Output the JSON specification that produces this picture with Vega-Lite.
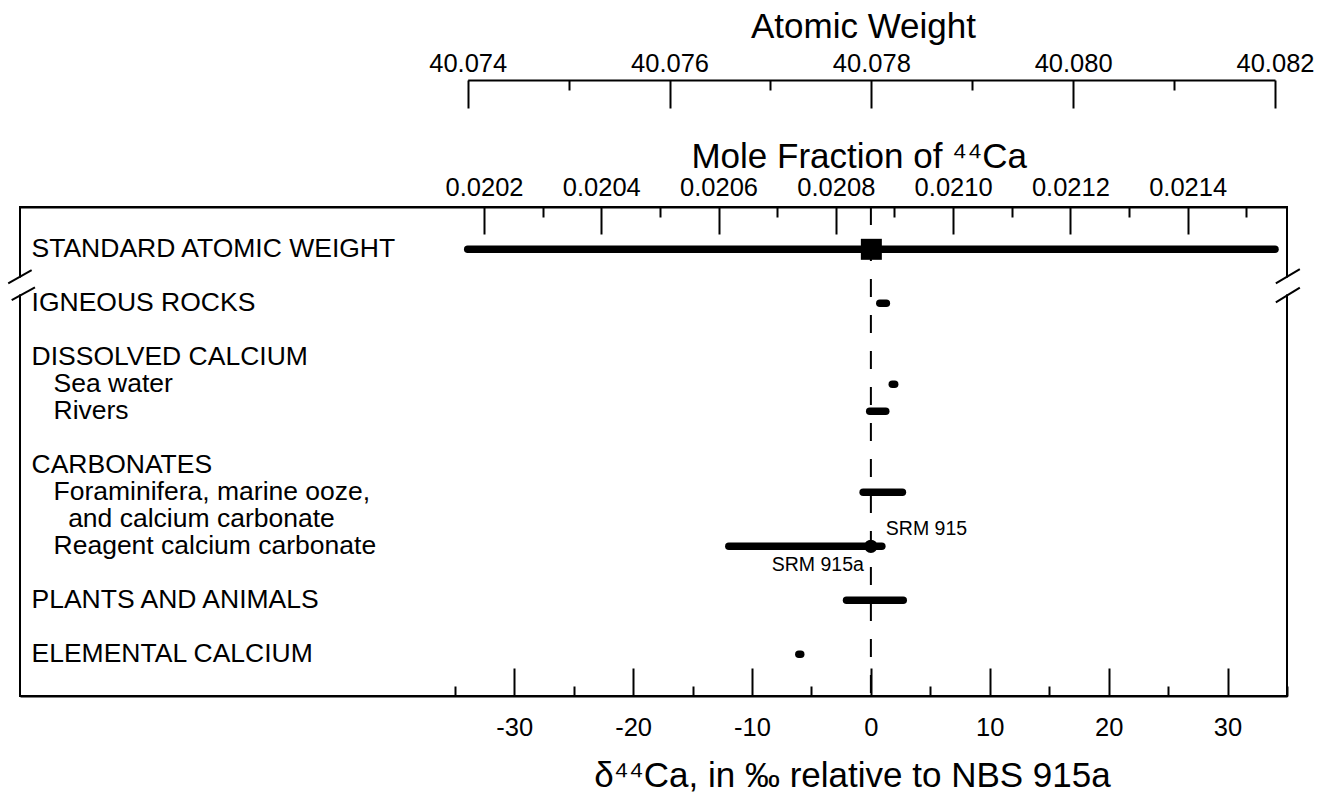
{
  "$schema": "https://vega.github.io/schema/vega-lite/v6.json",
  "width": 1267,
  "height": 489,
  "autosize": {"type": "none"},
  "padding": {"left": 20, "top": 207, "right": 32, "bottom": 97},
  "background": "white",
  "config": {
    "view": {"stroke": "black", "strokeWidth": 2},
    "axis": {
      "domainColor": "black", "domainWidth": 2, "tickColor": "black", "tickWidth": 2,
      "labelColor": "black", "titleColor": "black", "grid": false,
      "labelFont": "Liberation Sans", "titleFont": "Liberation Sans",
      "labelFontSize": 25.5, "titleFontSize": 35, "titleFontWeight": "normal",
      "labelFlush": false, "labelOverlap": false
    },
    "text": {"font": "Liberation Sans", "color": "black"}
  },
  "datasets": {
    "rows": [
      {"label": "STANDARD ATOMIC WEIGHT", "level": 1, "line": 0},
      {"label": "IGNEOUS ROCKS", "level": 1, "line": 2, "lo": 0.75, "hi": 1.3},
      {"label": "DISSOLVED CALCIUM", "level": 1, "line": 4},
      {"label": "Sea water", "level": 2, "line": 5, "lo": 1.8, "hi": 2.0},
      {"label": "Rivers", "level": 2, "line": 6, "lo": -0.1, "hi": 1.25},
      {"label": "CARBONATES", "level": 1, "line": 8},
      {"label": "Foraminifera, marine ooze,", "level": 2, "line": 9, "lo": -0.65, "hi": 2.65},
      {"label": "and calcium carbonate", "level": 3, "line": 10},
      {"label": "Reagent calcium carbonate", "level": 2, "line": 11, "lo": -11.95, "hi": 0.92},
      {"label": "PLANTS AND ANIMALS", "level": 1, "line": 13, "lo": -2.05, "hi": 2.72},
      {"label": "ELEMENTAL CALCIUM", "level": 1, "line": 15, "lo": -6.06, "hi": -5.9}
    ],
    "standard": [
      {"label": "STANDARD ATOMIC WEIGHT", "line": 0, "aw": 40.078, "aw_lo": 40.074, "aw_hi": 40.082}
    ],
    "srm": [
      {"name": "SRM 915a", "delta": 0, "line": 11},
      {"name": "SRM 915", "delta": 0.92, "line": 11}
    ]
  },
  "layer": [
    {
      "data": {"values": [{}]},
      "mark": {"type": "rule", "color": "white", "strokeWidth": 5},
      "encoding": {
        "x": {"datum": -71.57, "type": "quantitative", "scale": {"domain": [-71.57, 35], "nice": false, "zero": false}, "axis": null},
        "y": {"datum": 1.05, "type": "quantitative", "scale": {"domain": [16.544, -1.567], "nice": false, "zero": false}, "axis": null},
        "y2": {"datum": 1.67}
      }
    },
    {
      "data": {"values": [{}]},
      "mark": {"type": "rule", "color": "white", "strokeWidth": 5},
      "encoding": {
        "x": {"datum": 35, "type": "quantitative", "scale": {"domain": [-71.57, 35], "nice": false, "zero": false}, "axis": null},
        "y": {"datum": 1.05, "type": "quantitative", "scale": {"domain": [16.544, -1.567], "nice": false, "zero": false}, "axis": null},
        "y2": {"datum": 1.67}
      }
    },
    {
      "data": {"values": [{}]},
      "mark": {"type": "rule", "color": "black", "strokeWidth": 2, "strokeDash": [18, 18]},
      "encoding": {
        "x": {
          "datum": 0, "type": "quantitative",
          "scale": {"domain": [-71.57, 35], "nice": false, "zero": false},
          "axis": {
            "orient": "bottom", "values": [-35, -25, -15, -5, 5, 15, 25, 35],
            "tickSize": -10, "labels": false, "domain": false, "title": null
          }
        },
        "y": {"datum": -1.567, "type": "quantitative", "scale": {"domain": [16.544, -1.567], "nice": false, "zero": false}, "axis": null},
        "y2": {"datum": 16.544}
      }
    },
    {
      "data": {"name": "rows"},
      "transform": [{"filter": "isValid(datum.lo)"}],
      "mark": {"type": "rule", "strokeWidth": 7.5, "strokeCap": "round", "color": "black"},
      "encoding": {
        "x": {
          "field": "lo", "type": "quantitative",
          "scale": {"domain": [-71.57, 35], "nice": false, "zero": false},
          "axis": {
            "orient": "bottom", "values": [-30, -20, -10, 0, 10, 20, 30],
            "labelExpr": "datum.value < 0 ? '-' + abs(datum.value) : '' + datum.value",
            "tickSize": -28, "labelPadding": 67, "labelBaseline": "alphabetic",
            "title": "δ⁴⁴Ca, in ‰ relative to NBS 915a",
            "titleX": 832, "titleY": 90.7, "titleBaseline": "alphabetic", "titleAlign": "center"
          }
        },
        "x2": {"field": "hi"},
        "y": {"field": "line", "type": "quantitative", "scale": {"domain": [16.544, -1.567], "nice": false, "zero": false}, "axis": null}
      }
    },
    {
      "data": {"name": "rows"},
      "transform": [{"filter": "datum.level == 1"}],
      "mark": {"type": "text", "align": "left", "baseline": "middle", "fontSize": 26.5},
      "encoding": {
        "x": {"datum": -70.6, "type": "quantitative", "scale": {"domain": [-71.57, 35], "nice": false, "zero": false}, "axis": null},
        "y": {"field": "line", "type": "quantitative", "scale": {"domain": [16.544, -1.567], "nice": false, "zero": false}, "axis": null},
        "text": {"field": "label"}
      }
    },
    {
      "data": {"name": "rows"},
      "transform": [{"filter": "datum.level == 2"}],
      "mark": {"type": "text", "align": "left", "baseline": "middle", "fontSize": 26.5, "dx": 22},
      "encoding": {
        "x": {"datum": -70.6, "type": "quantitative", "scale": {"domain": [-71.57, 35], "nice": false, "zero": false}, "axis": null},
        "y": {"field": "line", "type": "quantitative", "scale": {"domain": [16.544, -1.567], "nice": false, "zero": false}, "axis": null},
        "text": {"field": "label"}
      }
    },
    {
      "data": {"name": "rows"},
      "transform": [{"filter": "datum.level == 3"}],
      "mark": {"type": "text", "align": "left", "baseline": "middle", "fontSize": 26.5, "dx": 36.6},
      "encoding": {
        "x": {"datum": -70.6, "type": "quantitative", "scale": {"domain": [-71.57, 35], "nice": false, "zero": false}, "axis": null},
        "y": {"field": "line", "type": "quantitative", "scale": {"domain": [16.544, -1.567], "nice": false, "zero": false}, "axis": null},
        "text": {"field": "label"}
      }
    },
    {
      "data": {"name": "srm"},
      "transform": [{"filter": "datum.name == 'SRM 915a'"}],
      "mark": {"type": "circle", "size": 177, "color": "black", "opacity": 1},
      "encoding": {
        "x": {"field": "delta", "type": "quantitative", "scale": {"domain": [-71.57, 35], "nice": false, "zero": false}, "axis": null},
        "y": {"field": "line", "type": "quantitative", "scale": {"domain": [16.544, -1.567], "nice": false, "zero": false}, "axis": null}
      }
    },
    {
      "data": {"name": "srm"},
      "transform": [{"filter": "datum.name == 'SRM 915'"}],
      "mark": {"type": "text", "align": "left", "baseline": "middle", "fontSize": 19.5, "dx": 4, "dy": -17.7},
      "encoding": {
        "x": {"field": "delta", "type": "quantitative", "scale": {"domain": [-71.57, 35], "nice": false, "zero": false}, "axis": null},
        "y": {"field": "line", "type": "quantitative", "scale": {"domain": [16.544, -1.567], "nice": false, "zero": false}, "axis": null},
        "text": {"field": "name"}
      }
    },
    {
      "data": {"name": "srm"},
      "transform": [{"filter": "datum.name == 'SRM 915a'"}],
      "mark": {"type": "text", "align": "right", "baseline": "middle", "fontSize": 19.5, "dx": -7, "dy": 18.3},
      "encoding": {
        "x": {"field": "delta", "type": "quantitative", "scale": {"domain": [-71.57, 35], "nice": false, "zero": false}, "axis": null},
        "y": {"field": "line", "type": "quantitative", "scale": {"domain": [16.544, -1.567], "nice": false, "zero": false}, "axis": null},
        "text": {"field": "name"}
      }
    },
    {
      "data": {"values": [{}]},
      "mark": {"type": "rule", "color": "black", "strokeWidth": 2},
      "encoding": {
        "x": {"datum": -72.56, "type": "quantitative", "scale": {"domain": [-71.57, 35], "nice": false, "zero": false}, "axis": null},
        "x2": {"datum": -70.59},
        "y": {"datum": 1.259, "type": "quantitative", "scale": {"domain": [16.544, -1.567], "nice": false, "zero": false}, "axis": null},
        "y2": {"datum": 0.767}
      }
    },
    {
      "data": {"values": [{}]},
      "mark": {"type": "rule", "color": "black", "strokeWidth": 2},
      "encoding": {
        "x": {"datum": -72.27, "type": "quantitative", "scale": {"domain": [-71.57, 35], "nice": false, "zero": false}, "axis": null},
        "x2": {"datum": -70.31},
        "y": {"datum": 1.878, "type": "quantitative", "scale": {"domain": [16.544, -1.567], "nice": false, "zero": false}, "axis": null},
        "y2": {"datum": 1.407}
      }
    },
    {
      "data": {"values": [{}]},
      "mark": {"type": "rule", "color": "black", "strokeWidth": 2},
      "encoding": {
        "x": {"datum": 34.06, "type": "quantitative", "scale": {"domain": [-71.57, 35], "nice": false, "zero": false}, "axis": null},
        "x2": {"datum": 36.08},
        "y": {"datum": 1.259, "type": "quantitative", "scale": {"domain": [16.544, -1.567], "nice": false, "zero": false}, "axis": null},
        "y2": {"datum": 0.73}
      }
    },
    {
      "data": {"values": [{}]},
      "mark": {"type": "rule", "color": "black", "strokeWidth": 2},
      "encoding": {
        "x": {"datum": 34.06, "type": "quantitative", "scale": {"domain": [-71.57, 35], "nice": false, "zero": false}, "axis": null},
        "x2": {"datum": 36.08},
        "y": {"datum": 1.963, "type": "quantitative", "scale": {"domain": [16.544, -1.567], "nice": false, "zero": false}, "axis": null},
        "y2": {"datum": 1.422}
      }
    },
    {
      "data": {"values": [{}]},
      "mark": {"type": "rule", "opacity": 0},
      "encoding": {
        "x": {
          "datum": 0.0208, "type": "quantitative",
          "scale": {"domain": [0.0194087, 0.0215694], "nice": false, "zero": false},
          "axis": {
            "orient": "top", "values": [0.0202, 0.0204, 0.0206, 0.0208, 0.021, 0.0212, 0.0214],
            "format": ".4f", "tickSize": -27, "labelPadding": 39, "labelBaseline": "alphabetic",
            "title": "Mole Fraction of ⁴⁴Ca",
            "titleX": 838.7, "titleY": -39.7, "titleBaseline": "alphabetic", "titleAlign": "center"
          }
        }
      }
    },
    {
      "data": {"values": [{}]},
      "mark": {"type": "rule", "opacity": 0},
      "encoding": {
        "x": {
          "datum": 0.0208, "type": "quantitative",
          "scale": {"domain": [0.0194087, 0.0215694], "nice": false, "zero": false},
          "axis": {
            "orient": "top", "values": [0.0203, 0.0205, 0.0207, 0.0209, 0.0211, 0.0213, 0.0215],
            "tickSize": -10, "labels": false, "domain": false, "title": null
          }
        }
      }
    },
    {
      "data": {"name": "standard"},
      "mark": {"type": "rule", "strokeWidth": 7.5, "strokeCap": "round", "color": "black"},
      "encoding": {
        "x": {
          "field": "aw_lo", "type": "quantitative",
          "scale": {"domain": [40.074, 40.082], "range": [447.7, 1255], "nice": false, "zero": false},
          "axis": {
            "orient": "top", "offset": 127, "values": [40.074, 40.076, 40.078, 40.08, 40.082],
            "format": ".3f", "tickSize": -28, "labelPadding": 37, "labelBaseline": "alphabetic",
            "title": "Atomic Weight",
            "titleX": 843, "titleY": -42.7, "titleBaseline": "alphabetic", "titleAlign": "center"
          }
        },
        "x2": {"field": "aw_hi"},
        "y": {"field": "line", "type": "quantitative", "scale": {"domain": [16.544, -1.567], "nice": false, "zero": false}, "axis": null}
      }
    },
    {
      "data": {"name": "standard"},
      "mark": {"type": "square", "size": 441, "color": "black", "opacity": 1},
      "encoding": {
        "x": {"field": "aw", "type": "quantitative", "scale": {"domain": [40.074, 40.082], "range": [447.7, 1255], "nice": false, "zero": false}, "axis": null},
        "y": {"field": "line", "type": "quantitative", "scale": {"domain": [16.544, -1.567], "nice": false, "zero": false}, "axis": null}
      }
    },
    {
      "data": {"values": [{}]},
      "mark": {"type": "rule", "opacity": 0},
      "encoding": {
        "x": {
          "datum": 40.078, "type": "quantitative",
          "scale": {"domain": [40.074, 40.082], "range": [447.7, 1255], "nice": false, "zero": false},
          "axis": {
            "orient": "top", "offset": 127, "values": [40.075, 40.077, 40.079, 40.081],
            "tickSize": -10, "labels": false, "domain": false, "title": null
          }
        }
      }
    }
  ],
  "resolve": {"scale": {"x": "independent"}}
}
